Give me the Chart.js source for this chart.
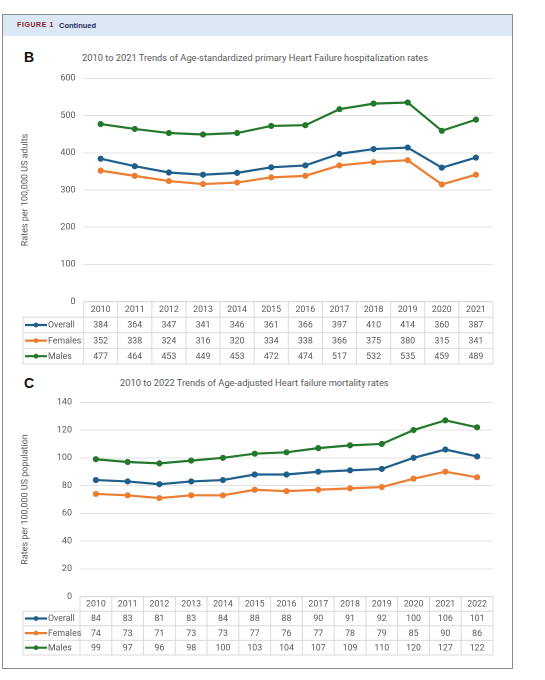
<!DOCTYPE html>
<html><head><meta charset="utf-8">
<script src="https://cdn.jsdelivr.net/npm/chart.js@4.4.1/dist/chart.umd.min.js"></script>
<style>
html,body{margin:0;padding:0;background:#fff;}
body{width:545px;height:680px;position:relative;overflow:hidden;font-family:"Roboto",sans-serif;}
#frame{position:absolute;left:2px;top:14px;width:511px;height:655px;border:1.5px solid #8c8c8c;box-sizing:border-box;}
#band{position:absolute;left:0;top:0;right:0;height:21px;background:#dde8f6;}
#fig{position:absolute;left:14px;top:6px;font:bold 7px "Liberation Sans",sans-serif;letter-spacing:0.6px;color:#8b1c2c;}
#cont{position:absolute;left:56px;top:5.5px;font:bold 7.5px "Liberation Sans",sans-serif;color:#1f2b5e;}
.panel{position:absolute;font:bold 14px "Liberation Sans",sans-serif;color:#111;}
.ttl{position:absolute;font-size:9.3px;color:#595959;white-space:nowrap;}
canvas{position:absolute;left:0;}
</style>
</head><body>
<div id="frame"><div id="band"><span id="fig">FIGURE 1</span><span id="cont">Continued</span></div></div>
<div class="panel" style="left:24px;top:49px;">B</div>
<div class="ttl" style="left:82px;top:52px;">2010 to 2021 Trends of Age-standardized primary Heart Failure hospitalization rates</div>
<div class="panel" style="left:24px;top:375px;">C</div>
<div class="ttl" style="left:120px;top:377px;">2010 to 2022 Trends of Age-adjusted Heart failure mortality rates</div>
<canvas id="cB" width="545" height="330" style="top:40px;width:545px;height:330px;"></canvas>
<canvas id="cC" width="545" height="295" style="top:372px;width:545px;height:295px;"></canvas>
<script>
// ---- Data ----
const seriesNames = ['Overall', 'Females', 'Males'];
const seriesColors = ['#1f5f8b', '#ed7d31', '#23782c'];

const yearsB = ['2010','2011','2012','2013','2014','2015','2016','2017','2018','2019','2020','2021'];
const overallB = [384,364,347,341,346,361,366,397,410,414,360,387];
const femalesB = [352,338,324,316,320,334,338,366,375,380,315,341];
const malesB   = [477,464,453,449,453,472,474,517,532,535,459,489];
const yTicksB = [0,100,200,300,400,500,600];

const yearsC = ['2010','2011','2012','2013','2014','2015','2016','2017','2018','2019','2020','2021','2022'];
const overallC = [84,83,81,83,84,88,88,90,91,92,100,106,101];
const femalesC = [74,73,71,73,73,77,76,77,78,79,85,90,86];
const malesC   = [99,97,96,98,100,103,104,107,109,110,120,127,122];
const yTicksC = [0,20,40,60,80,100,120,140];

const FONT = '"Roboto", sans-serif';
const TXT = '#595959';

// ---- Data table plugin (drawn from chart data and x scale) ----
const tablePlugin = {
  id: 'dataTable',
  afterDraw(chart, args, opts) {
    const ctx = chart.ctx, x = chart.scales.x, ca = chart.chartArea;
    const labels = chart.data.labels, n = labels.length;
    const step = x.getPixelForValue(1) - x.getPixelForValue(0);
    const top = ca.bottom;
    const ys = [top, top + opts.headerH];
    chart.data.datasets.forEach((d, i) => ys.push(top + opts.headerH + opts.rowH * (i + 1)));
    const L = opts.legendLeft, R = ca.right, bottom = ys[ys.length - 1];
    ctx.save();
    ctx.strokeStyle = '#dadada';
    ctx.lineWidth = 1;
    ctx.beginPath();
    ctx.moveTo(ca.left, ys[0]); ctx.lineTo(R, ys[0]);
    for (let k = 1; k < ys.length; k++) { ctx.moveTo(L, ys[k]); ctx.lineTo(R, ys[k]); }
    for (let i = 0; i <= n; i++) {
      const xx = x.getPixelForValue(0) - step / 2 + step * i;
      ctx.moveTo(xx, ys[0]); ctx.lineTo(xx, bottom);
    }
    ctx.moveTo(L, ys[1]); ctx.lineTo(L, bottom);
    ctx.stroke();
    ctx.fillStyle = TXT;
    ctx.font = opts.fontSize + 'px ' + FONT;
    ctx.textAlign = 'center';
    ctx.textBaseline = 'middle';
    labels.forEach((lab, i) => ctx.fillText(lab, x.getPixelForValue(i), (ys[0] + ys[1]) / 2 + 0.5));
    chart.data.datasets.forEach((ds, r) => {
      const cy = (ys[r + 1] + ys[r + 2]) / 2 + 0.5;
      ds.data.forEach((v, i) => ctx.fillText(String(v), x.getPixelForValue(i), cy));
      // legend key
      ctx.strokeStyle = ds.borderColor;
      ctx.lineWidth = 2.2;
      ctx.beginPath(); ctx.moveTo(L + 2, cy - 0.5); ctx.lineTo(L + 24, cy - 0.5); ctx.stroke();
      ctx.fillStyle = ds.borderColor;
      ctx.beginPath(); ctx.arc(L + 13, cy - 0.5, 2.4, 0, Math.PI * 2); ctx.fill();
      ctx.fillStyle = TXT;
      ctx.textAlign = 'left';
      ctx.fillText(ds.label, L + 25, cy);
      ctx.textAlign = 'center';
    });
    ctx.restore();
  }
};

function makeChart(id, labels, series, ticks, yMax, cfg) {
  const datasets = series.map((data, i) => ({
    label: seriesNames[i],
    data: data,
    borderColor: seriesColors[i],
    backgroundColor: seriesColors[i],
    pointBackgroundColor: seriesColors[i],
    pointBorderColor: seriesColors[i],
    pointRadius: 2.6,
    pointBorderWidth: 1,
    borderWidth: 2.2,
    tension: 0,
    fill: false
  }));
  return new Chart(document.getElementById(id), {
    type: 'line',
    data: { labels: labels, datasets: datasets },
    plugins: [tablePlugin],
    options: {
      responsive: false,
      animation: false,
      devicePixelRatio: 2,
      layout: { padding: cfg.padding },
      plugins: {
        legend: { display: false },
        title: { display: false },
        tooltip: { enabled: false },
        dataTable: cfg.table
      },
      scales: {
        x: { type: 'category', offset: true, display: false },
        y: {
          min: 0, max: yMax,
          afterBuildTicks: (axis) => { axis.ticks = ticks.map(v => ({ value: v })); },
          afterFit: (axis) => { axis.width = cfg.yWidth; },
          border: { display: false },
          grid: { color: '#e3e3e3', drawTicks: false, lineWidth: 1 },
          ticks: { padding: 8, color: TXT, font: { family: FONT, size: 9 } },
          title: {
            display: true, text: cfg.yTitle, color: TXT,
            font: { family: FONT, size: 9 }, padding: { top: 6, bottom: 0 }
          }
        }
      }
    }
  });
}

makeChart('cB', yearsB, [overallB, femalesB, malesB], yTicksB, 600, {
  padding: { left: 14, right: 52, top: 38.3, bottom: 68.3 },
  yWidth: 69.6,
  yTitle: 'Rates per 100,000 US adults',
  table: { headerH: 15.5, rowH: 15.6, legendLeft: 23, fontSize: 8.8 }
});

makeChart('cC', yearsC, [overallC, femalesC, malesC], yTicksC, 140, {
  padding: { left: 14, right: 52, top: 30.3, bottom: 70.3 },
  yWidth: 66,
  yTitle: 'Rates per 100,000 US population',
  table: { headerH: 14.5, rowH: 14.6, legendLeft: 23, fontSize: 8.8 }
});
</script>
</body></html>
